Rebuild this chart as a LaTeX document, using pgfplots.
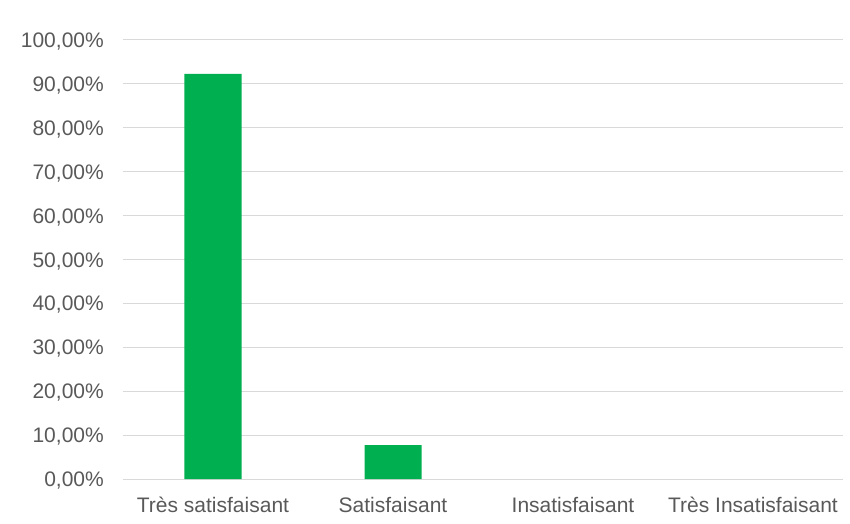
\documentclass[border=0pt]{standalone}
\usepackage{pgfplots}
\pgfplotsset{compat=1.18}
\usepackage{fontspec}
\setmainfont{Liberation Sans}
\definecolor{barGreen}{RGB}{0,176,80}
\definecolor{labelGray}{RGB}{89,89,89}
\definecolor{gridGray}{RGB}{217,217,217}

\begin{document}
\begin{tikzpicture}
\begin{axis}[
  scale only axis,
  width=720pt, height=439pt,
  xmin=-0.5, xmax=3.5,
  ymin=0, ymax=100,
  axis line style={draw=none},
  ytick={0,10,...,100},
  xtick={0,1,2,3},
  xticklabels={Très satisfaisant, Satisfaisant, Insatisfaisant, Très Insatisfaisant},
  ymajorgrids,
  grid style={gridGray, line width=1pt},
  major tick length=0pt,
  tick style={draw=none},
  tick label style={font=\fontsize{21}{24}\selectfont, text=labelGray, inner sep=0pt},
  x tick label style={anchor=base, yshift=-33pt},
  y tick label style={anchor=base east, xshift=-19pt, yshift=-7.5pt},
  yticklabel={\pgfmathprintnumber[fixed, fixed zerofill, precision=2, use comma, assume math mode=true]{\tick}\%},
  ybar, bar width=57pt,
  clip=false,
  unbounded coords=discard,
  y filter/.expression={y==0 ? nan : y},
]
% share of answers per category (percent)
\addplot[draw=none, fill=barGreen] coordinates {(0,92.31) (1,7.69) (2,0) (3,0)};
\coordinate (bl) at (rel axis cs:0,0);
\coordinate (tr) at (rel axis cs:1,1);
\end{axis}
\path ([shift={(-123pt,-44pt)}]bl) rectangle ([shift={(7pt,40pt)}]tr);
\end{tikzpicture}
\end{document}
